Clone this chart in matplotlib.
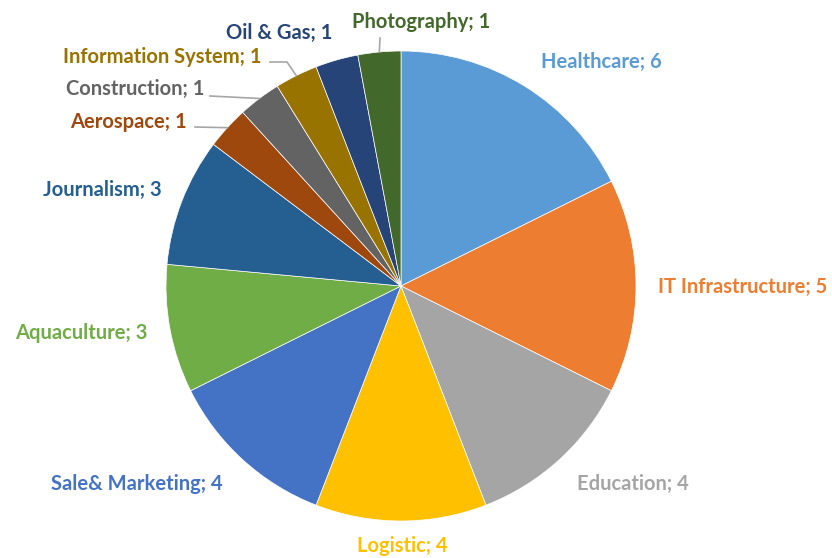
import numpy as np
import matplotlib.pyplot as plt

# data
sectors = ['Healthcare', 'IT Infrastructure', 'Education', 'Logistic', 'Sale& Marketing',
           'Aquaculture', 'Journalism', 'Aerospace', 'Construction', 'Information System',
           'Oil & Gas', 'Photography']
counts = [6, 5, 4, 4, 4, 3, 3, 1, 1, 1, 1, 1]
colors = ['#5B9BD5', '#ED7D31', '#A5A5A5', '#FFC000', '#4472C4', '#70AD47',
          '#255E91', '#9E480E', '#636363', '#997300', '#264478', '#43682B']

# layout (pixel space, y measured from top of image)
W, H = 832, 558
cx, cy, R = 401, 286, 235
label_pos = [(601, 62), (743, 287), (633, 484), (402, 546), (137, 484), (81, 333),
             (102, 190), (128, 122), (135, 89), (162, 57), (279, 33), (421, 22)]
# leader lines: list of knee points before the slice edge (None = no line)
leaders = [None, None, None, None, None, None, None,
           [(195, 127)], [(210, 96)], [(270, 62), (287, 62)], None, [(380, 38)]]

fig = plt.figure(figsize=(W / 100, H / 100), dpi=100)
ax = fig.add_axes([0, 0, 1, 1])

wedges, _ = ax.pie(counts, colors=colors, startangle=90, counterclock=False,
                   radius=R, center=(cx, H - cy),
                   wedgeprops=dict(linewidth=0.5, edgecolor='white'))
ax.set_xlim(0, W)
ax.set_ylim(0, H)
ax.set_aspect('equal')
ax.axis('off')

total = sum(counts)
cum = np.cumsum([0] + counts)
for i, name in enumerate(sectors):
    lx, ly = label_pos[i]
    ax.text(lx, H - ly, f'{name}; {counts[i]}', color=colors[i], ha='center', va='center',
            fontsize=14.5, fontweight='bold', family=['Lato', 'DejaVu Sans'])
    if leaders[i] is not None:
        mid = (cum[i] + cum[i + 1]) / 2
        ang = np.deg2rad(90 - mid / total * 360)
        ex, ey = cx + R * np.cos(ang), H - (cy - R * np.sin(ang))
        xs = [p[0] for p in leaders[i]] + [ex]
        ys = [H - p[1] for p in leaders[i]] + [ey]
        ax.plot(xs, ys, color='#A6A6A6', linewidth=1.2)

fig.savefig('out.png', dpi=100)
